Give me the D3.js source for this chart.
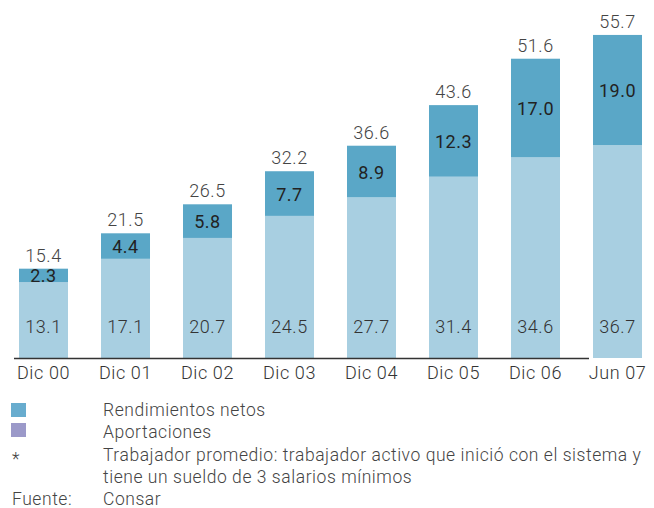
<!DOCTYPE html>
<html>
<head>
<meta charset="utf-8">
<script src="https://cdn.jsdelivr.net/npm/d3@7"></script>
<style>
  body { margin: 0; background: #fff; }
  svg { display: block; font-family: Roboto, "Liberation Sans", sans-serif; font-weight: 300; }
</style>
</head>
<body>
<svg id="chart" width="654" height="508"></svg>
<script>
// data
var categories    = ['Dic 00', 'Dic 01', 'Dic 02', 'Dic 03', 'Dic 04', 'Dic 05', 'Dic 06', 'Jun 07'];
var aportaciones  = [13.1, 17.1, 20.7, 24.5, 27.7, 31.4, 34.6, 36.7];
var rendimientos  = [2.3, 4.4, 5.8, 7.7, 8.9, 12.3, 17.0, 19.0];
var totals        = [15.4, 21.5, 26.5, 32.2, 36.6, 43.6, 51.6, 55.7];

var legendItems = ['Rendimientos netos', 'Aportaciones'];
var noteLines   = ['Trabajador promedio: trabajador activo que inició con el sistema y',
                   'tiene un sueldo de 3 salarios mínimos'];
var sourceText  = 'Consar';

var darkBlue  = '#5aa7c7';
var lightBlue = '#a8cfe1';

var svg = d3.select('#chart');

var baseY = 358;

var x = d3.scaleBand()
  .domain(categories)
  .range([19, 642])
  .paddingInner(0.4024)
  .paddingOuter(0);

var y = d3.scaleLinear()
  .domain([0, 60])
  .range([baseY, baseY - 60 * 5.8]);

var rows = categories.map(function (c, i) {
  return { cat: c, a: aportaciones[i], r: rendimientos[i], t: totals[i] };
});

var bars = svg.append('g').attr('class', 'bars')
  .selectAll('g.bar')
  .data(rows)
  .enter()
  .append('g')
  .attr('class', 'bar');

// bottom segment (aportaciones)
bars.append('rect')
  .attr('x', function (d) { return x(d.cat); })
  .attr('width', x.bandwidth())
  .attr('y', function (d) { return y(d.a); })
  .attr('height', function (d) { return y(0) - y(d.a); })
  .attr('fill', lightBlue);

// top segment (rendimientos)
bars.append('rect')
  .attr('x', function (d) { return x(d.cat); })
  .attr('width', x.bandwidth())
  .attr('y', function (d) { return y(d.t); })
  .attr('height', function (d) { return y(d.t - d.r) - y(d.t); })
  .attr('fill', darkBlue);

// labels
bars.append('text')
  .attr('x', function (d) { return x(d.cat) + x.bandwidth() / 2; })
  .attr('y', baseY - 25)
  .attr('text-anchor', 'middle')
  .style('font-size', '18px')
  .style('letter-spacing', '0.5px')
  .attr('fill', '#333')
  .text(function (d) { return d.a.toFixed(1); });

bars.append('text')
  .attr('x', function (d) { return x(d.cat) + x.bandwidth() / 2; })
  .attr('y', function (d) {
    var mid = (y(d.t) + y(d.t - d.r)) / 2;
    return mid + 7;
  })
  .attr('text-anchor', 'middle')
  .style('font-size', '18px')
  .style('font-weight', 400)
  .style('letter-spacing', '0.5px')
  .attr('fill', '#222')
  .text(function (d) { return d.r.toFixed(1); });

bars.append('text')
  .attr('x', function (d) { return x(d.cat) + x.bandwidth() / 2; })
  .attr('y', function (d) { return y(d.t) - 7; })
  .attr('text-anchor', 'middle')
  .style('font-size', '18px')
  .style('letter-spacing', '0.5px')
  .attr('fill', '#444')
  .text(function (d) { return d.t.toFixed(1); });

// baseline
svg.append('line')
  .attr('x1', 14)
  .attr('x2', x('Jun 07') - 4)
  .attr('y1', baseY + 0.5)
  .attr('y2', baseY + 0.5)
  .attr('stroke', '#333')
  .attr('stroke-width', 1.6);

// category axis
var xAxis = svg.append('g')
  .attr('transform', 'translate(0,' + baseY + ')')
  .call(d3.axisBottom(x).tickSize(0).tickPadding(8));
xAxis.select('.domain').remove();
xAxis.selectAll('text')
  .style('font-size', '18px')
  .style('font-family', 'Roboto, "Liberation Sans", sans-serif')
  .style('font-weight', 300)
  .style('letter-spacing', '0.6px')
  .attr('fill', '#333');

// legend
var legendColors = ['#68acce', '#9b99c9'];
var legend = svg.append('g').attr('class', 'legend')
  .style('font-size', '17.5px')
  .style('letter-spacing', '0.55px');
var lineH = 22.3;
var firstBase = 416;

legendItems.forEach(function (label, i) {
  legend.append('rect')
    .attr('x', 11)
    .attr('y', 403 + i * 20)
    .attr('width', 15)
    .attr('height', 14)
    .attr('fill', legendColors[i]);
  legend.append('text')
    .attr('x', 103)
    .attr('y', firstBase + i * lineH)
    .attr('fill', '#444')
    .text(label);
});

legend.append('text')
  .attr('x', 12)
  .attr('y', firstBase + 2 * lineH + 4)
  .attr('fill', '#444')
  .text('*');

noteLines.forEach(function (line, i) {
  legend.append('text')
    .attr('x', 103)
    .attr('y', firstBase + (2 + i) * lineH)
    .attr('fill', '#444')
    .text(line);
});

legend.append('text')
  .attr('x', 12)
  .attr('y', firstBase + 4 * lineH)
  .attr('fill', '#444')
  .text('Fuente:');

legend.append('text')
  .attr('x', 103)
  .attr('y', firstBase + 4 * lineH)
  .attr('fill', '#444')
  .text(sourceText);
</script>
</body>
</html>
